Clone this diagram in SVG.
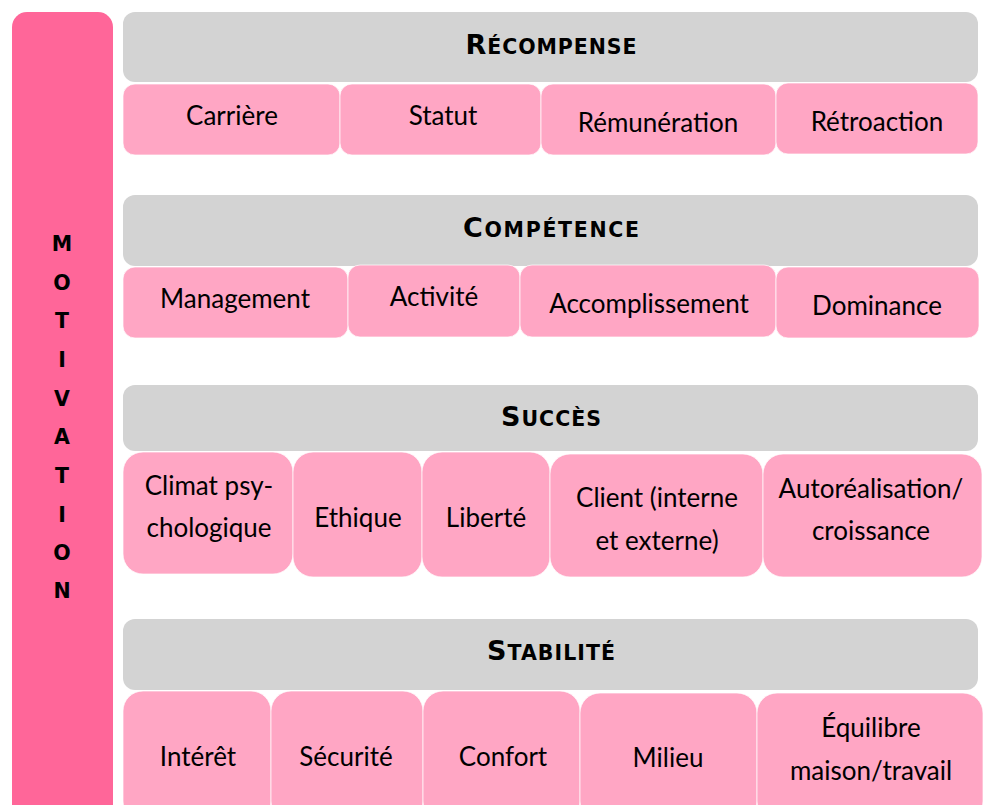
<svg xmlns="http://www.w3.org/2000/svg" width="986" height="805" viewBox="0 0 986 805">
<style>
.bar{fill:#FF6699;}
.hdr{fill:#D3D3D3;}
.box{fill:#FFA6C4;stroke:#FFFFFF;stroke-opacity:0.7;stroke-width:1;}
.t{font-family:Lato,"Liberation Sans",sans-serif;font-size:26px;fill:#000;text-anchor:middle;}
.h{font-family:"DejaVu Sans","Liberation Sans",sans-serif;font-weight:bold;fill:#000;text-anchor:middle;font-size:20.5px;}
.hb{font-size:27px;}
.v{font-family:"DejaVu Sans","Liberation Sans",sans-serif;font-weight:bold;font-size:20.5px;fill:#000;text-anchor:middle;}
</style>
<rect width="986" height="805" fill="#FFFFFF"/>
<g id="motivation">
<rect class="bar" x="12" y="12" width="101" height="820" rx="15"/>
<text class="v" x="62" y="251">M</text>
<text class="v" x="62" y="290">O</text>
<text class="v" x="62" y="328">T</text>
<text class="v" x="62" y="367">I</text>
<text class="v" x="62" y="406">V</text>
<text class="v" x="62" y="444">A</text>
<text class="v" x="62" y="483">T</text>
<text class="v" x="62" y="522">I</text>
<text class="v" x="62" y="560">O</text>
<text class="v" x="62" y="598">N</text>
</g>
<g id="recompense">
<rect class="hdr" x="123" y="12" width="855" height="70" rx="12"/>
<text class="h" x="551" y="54" textLength="171" lengthAdjust="spacing"><tspan class="hb">R</tspan>ÉCOMPENSE</text>
</g>
<g id="carriere"><rect class="box" x="123" y="84" width="217" height="71" rx="12"/><text class="t" x="232" y="125">Carrière</text></g>
<g id="statut"><rect class="box" x="340" y="84" width="201" height="71" rx="12"/><text class="t" x="443" y="125">Statut</text></g>
<g id="remuneration"><rect class="box" x="541" y="84" width="235" height="71" rx="12"/><text class="t" x="658" y="132">Rémunération</text></g>
<g id="retroaction"><rect class="box" x="776" y="83" width="202" height="71" rx="12"/><text class="t" x="877" y="131">Rétroaction</text></g>

<g id="competence">
<rect class="hdr" x="123" y="195" width="855" height="71" rx="12"/>
<text class="h" x="551" y="237" textLength="176" lengthAdjust="spacing"><tspan class="hb">C</tspan>OMPÉTENCE</text>
</g>
<g id="management"><rect class="box" x="123" y="267" width="225" height="71" rx="12"/><text class="t" x="235" y="308">Management</text></g>
<g id="activite"><rect class="box" x="348" y="265" width="172" height="72" rx="12"/><text class="t" x="434" y="306">Activité</text></g>
<g id="accomplissement"><rect class="box" x="520" y="265" width="256" height="72" rx="12"/><text class="t" x="649" y="313">Accomplissement</text></g>
<g id="dominance"><rect class="box" x="776" y="267" width="203" height="71" rx="12"/><text class="t" x="877" y="315">Dominance</text></g>

<g id="succes">
<rect class="hdr" x="123" y="385" width="855" height="66" rx="12"/>
<text class="h" x="551" y="426" textLength="100" lengthAdjust="spacing"><tspan class="hb">S</tspan>UCCÈS</text>
</g>
<g id="climat"><rect class="box" x="123" y="452" width="170" height="122" rx="20"/><text class="t" x="209" y="495">Climat psy-</text><text class="t" x="209" y="537">chologique</text></g>
<g id="ethique"><rect class="box" x="293" y="452" width="129" height="125" rx="20"/><text class="t" x="358" y="527">Ethique</text></g>
<g id="liberte"><rect class="box" x="422" y="452" width="128" height="125" rx="20"/><text class="t" x="486" y="527">Liberté</text></g>
<g id="client"><rect class="box" x="550" y="454" width="213" height="123" rx="20"/><text class="t" x="657" y="507">Client (interne</text><text class="t" x="657" y="550">et externe)</text></g>
<g id="autorealisation"><rect class="box" x="763" y="454" width="219" height="123" rx="20"/><text class="t" x="871" y="498">Autoréalisation/</text><text class="t" x="871" y="540">croissance</text></g>

<g id="stabilite">
<rect class="hdr" x="123" y="619" width="855" height="71" rx="12"/>
<text class="h" x="551" y="660" textLength="128" lengthAdjust="spacing"><tspan class="hb">S</tspan>TABILITÉ</text>
</g>
<g id="interet"><rect class="box" x="123" y="691" width="148" height="130" rx="20"/><text class="t" x="198" y="766">Intérêt</text></g>
<g id="securite"><rect class="box" x="271" y="691" width="152" height="130" rx="20"/><text class="t" x="346" y="766">Sécurité</text></g>
<g id="confort"><rect class="box" x="423" y="691" width="157" height="130" rx="20"/><text class="t" x="503" y="766">Confort</text></g>
<g id="milieu"><rect class="box" x="580" y="693" width="177" height="128" rx="20"/><text class="t" x="668" y="767">Milieu</text></g>
<g id="equilibre"><rect class="box" x="757" y="693" width="226" height="128" rx="20"/><text class="t" x="871" y="737">Équilibre</text><text class="t" x="871" y="780">maison/travail</text></g>
<g id="connectors"></g>
</svg>
